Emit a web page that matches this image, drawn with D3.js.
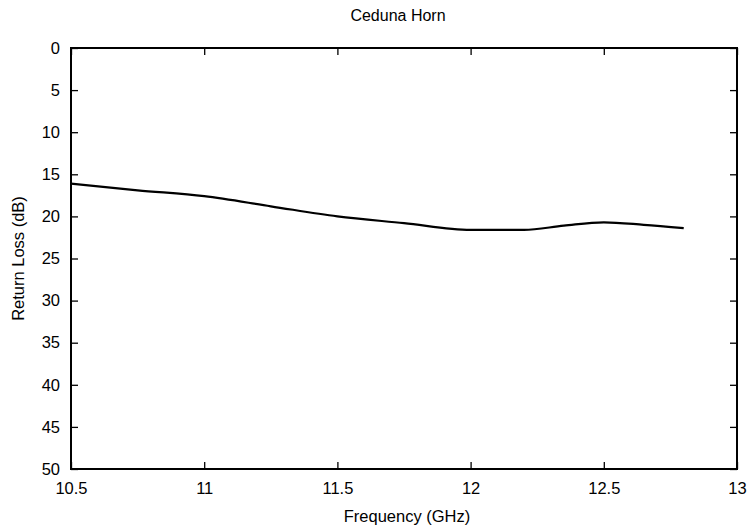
<!DOCTYPE html>
<html><head><meta charset="utf-8">
<script src="https://cdn.jsdelivr.net/npm/d3@7"></script>
<style>body{margin:0;background:#fff}svg{display:block}text{font-family:"Liberation Sans",Arial,sans-serif;fill:#000}</style>
</head><body>
<script>
const freq = [10.5, 10.75, 11, 11.25, 11.5, 11.75, 12, 12.2, 12.35, 12.5, 12.65, 12.8];
const returnLoss = [16.1, 16.9, 17.6, 18.8, 20.0, 20.8, 21.6, 21.6, 21.1, 20.7, 21.0, 21.4];
const xTicks = [10.5, 11, 11.5, 12, 12.5, 13];
const yTicks = [0, 5, 10, 15, 20, 25, 30, 35, 40, 45, 50];

const W = 751, H = 529;
const m = {l: 71, r: 14, t: 48, b: 60};
const svg = d3.select("body").append("svg").attr("width", W).attr("height", H);
const x = d3.scaleLinear().domain([10.5, 13]).range([m.l, W - m.r]);
const y = d3.scaleLinear().domain([0, 50]).range([m.t, H - m.b]);

const fs = 16.5, tl = 7;
svg.append("g").attr("transform", `translate(0,${H - m.b})`)
  .call(d3.axisBottom(x).tickValues(xTicks).tickFormat(d3.format("")).tickSizeInner(-tl).tickSizeOuter(0).tickPadding(13))
  .call(g => { g.select(".domain").remove(); g.selectAll("text").attr("font-size", fs); g.selectAll("line").attr("stroke-width", 1.3); });
svg.append("g").attr("transform", `translate(0,${m.t})`)
  .call(d3.axisTop(x).tickValues(xTicks).tickFormat("").tickSizeInner(-tl).tickSizeOuter(0))
  .call(g => { g.select(".domain").remove(); g.selectAll("line").attr("stroke-width", 1.3); });
svg.append("g").attr("transform", `translate(${m.l},0)`)
  .call(d3.axisLeft(y).tickValues(yTicks).tickFormat(d3.format("")).tickSizeInner(-tl).tickSizeOuter(0).tickPadding(11))
  .call(g => { g.select(".domain").remove(); g.selectAll("text").attr("font-size", fs); g.selectAll("line").attr("stroke-width", 1.3); });
svg.append("g").attr("transform", `translate(${W - m.r},0)`)
  .call(d3.axisRight(y).tickValues(yTicks).tickFormat("").tickSizeInner(-tl).tickSizeOuter(0))
  .call(g => { g.select(".domain").remove(); g.selectAll("line").attr("stroke-width", 1.3); });

svg.append("rect").attr("x", m.l).attr("y", m.t).attr("width", W - m.l - m.r).attr("height", H - m.t - m.b)
  .attr("fill", "none").attr("stroke", "#000").attr("stroke-width", 2);

svg.append("path").datum(freq.map((f, i) => [f, returnLoss[i]]))
  .attr("fill", "none").attr("stroke", "#000").attr("stroke-width", 2.2)
  .attr("d", d3.line().x(d => x(d[0])).y(d => y(d[1])).curve(d3.curveMonotoneX));

svg.append("text").attr("x", (m.l + W - m.r) / 2 - 6).attr("y", 21).attr("text-anchor", "middle").attr("font-size", 16).text("Ceduna Horn");
svg.append("text").attr("x", (m.l + W - m.r) / 2 + 3).attr("y", 522).attr("text-anchor", "middle").attr("font-size", fs).text("Frequency (GHz)");
svg.append("text").attr("transform", `translate(24,${(m.t + H - m.b) / 2}) rotate(-90)`).attr("text-anchor", "middle").attr("font-size", fs).text("Return Loss (dB)");
</script>
</body></html>
